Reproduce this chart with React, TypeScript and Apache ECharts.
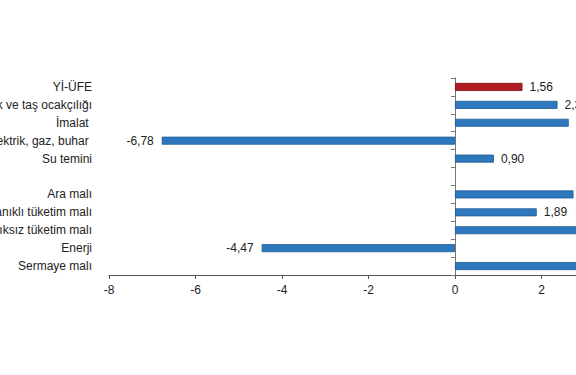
import React, { useEffect, useRef } from "react";
import * as echarts from "echarts";

const categories = [
  "Yİ-ÜFE",
  "Madencilik ve taş ocakçılığı",
  "İmalat ",
  "Elektrik, gaz, buhar ",
  "Su temini",
  "",
  "Ara malı",
  "Dayanıklı tüketim malı",
  "Dayanıksız tüketim malı",
  "Enerji",
  "Sermaye malı",
];
const values: (number | null)[] = [1.56, 2.37, 2.63, -6.78, 0.9, null, 2.74, 1.89, 3.2, -4.47, 3.45];
const highlightIndex = 0;
const xTicks = { min: -8, max: 4, interval: 2 };

const BLUE = "#2e78bd";
const BLUE_BORDER = "#1f5c96";
const RED = "#b01c1f";
const RED_BORDER = "#7f1012";

export default function App() {
  const ref = useRef<HTMLDivElement>(null);
  useEffect(() => {
    const chart = echarts.init(ref.current!, null, { renderer: "svg" });
    const catsRev = [...categories].reverse();
    const valsRev = [...values].reverse();
    const n = categories.length;
    chart.setOption({
      animation: false,
      textStyle: { fontFamily: "Liberation Sans, Arial, sans-serif" },
      grid: { left: 109, right: -52, top: 78, bottom: 100, outerBoundsMode: "none", containLabel: false },
      xAxis: {
        type: "value",
        min: xTicks.min,
        max: xTicks.max,
        interval: xTicks.interval,
        axisLine: { show: true, lineStyle: { color: "#555", width: 1 } },
        axisTick: { show: true, length: 4, lineStyle: { color: "#555" } },
        splitLine: { show: false },
        axisLabel: {
          color: "#222",
          fontSize: 12,
          margin: 9,
          formatter: (v: number) => String(v),
        },
      },
      yAxis: [
        {
          type: "category",
          data: catsRev,
          position: "left",
          axisLine: { show: true, onZero: true, lineStyle: { color: "#777" } },
          axisTick: { show: true, length: 4, lineStyle: { color: "#777" } },
          axisLabel: { show: false },
          splitLine: { show: false },
        },
        {
          type: "category",
          data: catsRev,
          position: "left",
          axisLine: { show: false, onZero: false },
          axisTick: { show: false },
          axisLabel: { show: true, color: "#222", fontSize: 12, margin: 17 },
          splitLine: { show: false },
        },
      ],
      series: [
        {
          type: "bar",
          yAxisIndex: 0,
          barWidth: 8,
          clip: false,
          data: valsRev.map((v, i) => {
            const origIdx = n - 1 - i;
            if (v === null) return null;
            const hl = origIdx === highlightIndex;
            return {
              value: v,
              itemStyle: {
                color: hl ? RED : BLUE,
                borderColor: hl ? RED_BORDER : BLUE_BORDER,
                borderWidth: 0.8,
              },
              label: {
                show: true,
                position: v < 0 ? "left" : "right",
                distance: v < 0 ? 8 : 7,
                color: "#222",
                fontSize: 12,
                formatter: () => v.toFixed(2).replace(".", ","),
              },
            };
          }),
        },
      ],
    });
    return () => chart.dispose();
  }, []);
  return (
    <div
      ref={ref}
      style={{ position: "fixed", left: 0, top: 0, width: 576, height: 375, background: "#fff" }}
    />
  );
}
